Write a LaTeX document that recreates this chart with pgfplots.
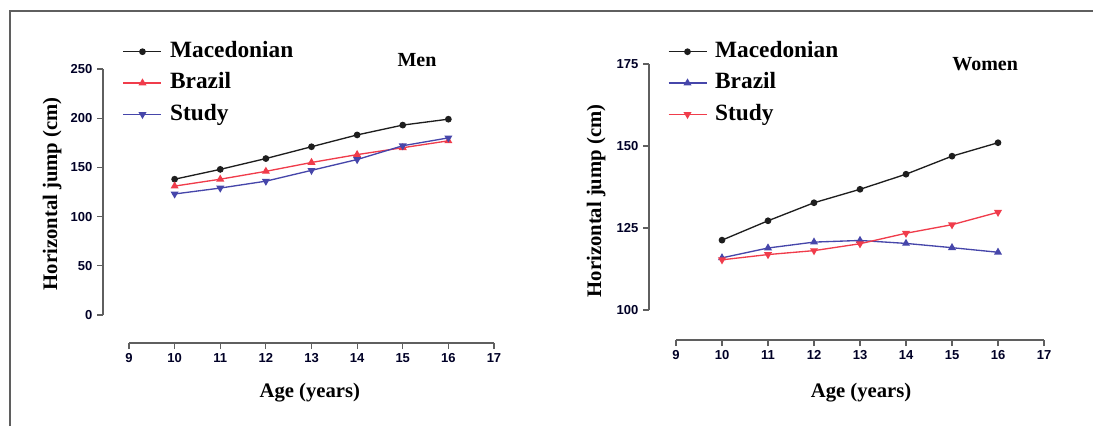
\documentclass[border=0pt]{standalone}
\usepackage{fontspec}
\setmainfont{Liberation Serif}
\newfontfamily\tickfont{Liberation Sans}
\usepackage{pgfplots}
\pgfplotsset{compat=1.18}
\definecolor{axgray}{RGB}{95,95,95}
\definecolor{mred}{RGB}{240,60,75}
\definecolor{mblue}{RGB}{70,70,170}
\definecolor{mblack}{RGB}{30,30,30}

\pgfplotsset{
  jumpaxis/.style={
    scale only axis,
    clip mode=individual,
    axis x line*=bottom, axis y line*=left,
    axis line style={-, draw=axgray, line width=0.9pt},
    tick style={draw=axgray, line width=0.9pt},
    tick align=outside,
    major tick length=4.5pt,
    xmax=17,
    xtick={9,...,17},
    /pgf/number format/assume math mode=true,
    tick label style={font=\tickfont\bfseries\fontsize{9.75}{10}\selectfont, text=black!85!blue},
    label style={font=\bfseries\fontsize{15.5}{17}\selectfont},
    xlabel={Age (years)},
    ylabel={Horizontal jump (cm)},
    legend cell align=left,
    legend image code/.code={\draw[mark repeat=2,mark phase=2,##1] plot coordinates {(0pt,0pt) (14.25pt,0pt) (28.5pt,0pt)};},
    legend style={draw=none, fill=none, anchor=north west, inner sep=0pt, row sep=3pt,
      font=\bfseries\fontsize{17.5}{17.5}\selectfont,
      nodes={text height=12.5pt, text depth=4pt, inner sep=2pt},
      /tikz/every even column/.append style={column sep=2pt},
      /tikz/every odd column/.append style={column sep=4pt}},
  },
  mac/.style={mblack, line width=1pt, mark=*, mark size=2pt, mark options={fill=mblack}},
  bra/.style={line width=1pt, mark=triangle*, mark size=2.5pt},
  stu/.style={line width=1pt, mark=triangle*, mark size=2.5pt, mark options={rotate=180}},
}

\begin{document}
\begin{tikzpicture}
\useasboundingbox (0,0) rectangle (819.75pt,319.5pt);
\draw[axgray, line width=1.1pt] (7.5pt,0pt) -- (7.5pt,311.25pt) -- (819.75pt,311.25pt);

% Men
\begin{axis}[jumpaxis,
  at={(77.25pt,62.25pt)}, anchor=south west,
  width=293.25pt, height=205.5pt,
  xmin=8.43, ymin=-28.46, ymax=250,
  ytick={0,50,...,250},
  x axis line style={shorten <=19.5pt},
  y axis line style={shorten <=21pt},
  xlabel style={at={(axis description cs:0.529,-0.182)}, anchor=center},
  ylabel style={at={(axis description cs:-0.130,0.545)}, anchor=center, rotate=0},
  legend style={at={(axis description cs:0.050,1.114)}},
]
\addplot[mac] coordinates {(10,138) (11,148) (12,159) (13,171) (14,183) (15,193) (16,199)};
\addlegendentry{Macedonian}
\addplot[bra, mred, mark options={fill=mred}] coordinates {(10,131) (11,138) (12,146) (13,155) (14,163) (15,170) (16,177)};
\addlegendentry{Brazil}
\addplot[stu, mblue, mark options={fill=mblue, rotate=180}] coordinates {(10,123) (11,129) (12,136) (13,147) (14,158) (15,172) (16,180)};
\addlegendentry{Study}
\node[font=\bfseries\fontsize{15}{15}\selectfont] at (axis description cs:0.803,1.033) {Men};
\end{axis}

% Women
\begin{axis}[jumpaxis,
  at={(486.75pt,64.5pt)}, anchor=south west,
  width=296.25pt, height=207pt,
  xmin=8.413, ymin=90.85, ymax=175,
  ytick={100,125,150,175},
  x axis line style={shorten <=20.25pt},
  y axis line style={shorten <=22.5pt},
  xlabel style={at={(axis description cs:0.537,-0.192)}, anchor=center},
  ylabel style={at={(axis description cs:-0.134,0.504)}, anchor=center, rotate=0},
  legend style={at={(axis description cs:0.047,1.095)}},
]
\addplot[mac] coordinates {(10,121.3) (11,127.2) (12,132.7) (13,136.8) (14,141.4) (15,146.9) (16,151.0)};
\addlegendentry{Macedonian}
\addplot[bra, mblue, mark options={fill=mblue}] coordinates {(10,115.9) (11,118.9) (12,120.7) (13,121.2) (14,120.3) (15,119.0) (16,117.6)};
\addlegendentry{Brazil}
\addplot[stu, mred, mark options={fill=mred, rotate=180}] coordinates {(10,115.3) (11,116.9) (12,118.1) (13,120.2) (14,123.4) (15,126.0) (16,129.8)};
\addlegendentry{Study}
\node[font=\bfseries\fontsize{15}{15}\selectfont] at (axis description cs:0.851,1.0) {Women};
\end{axis}
\end{tikzpicture}
\end{document}
